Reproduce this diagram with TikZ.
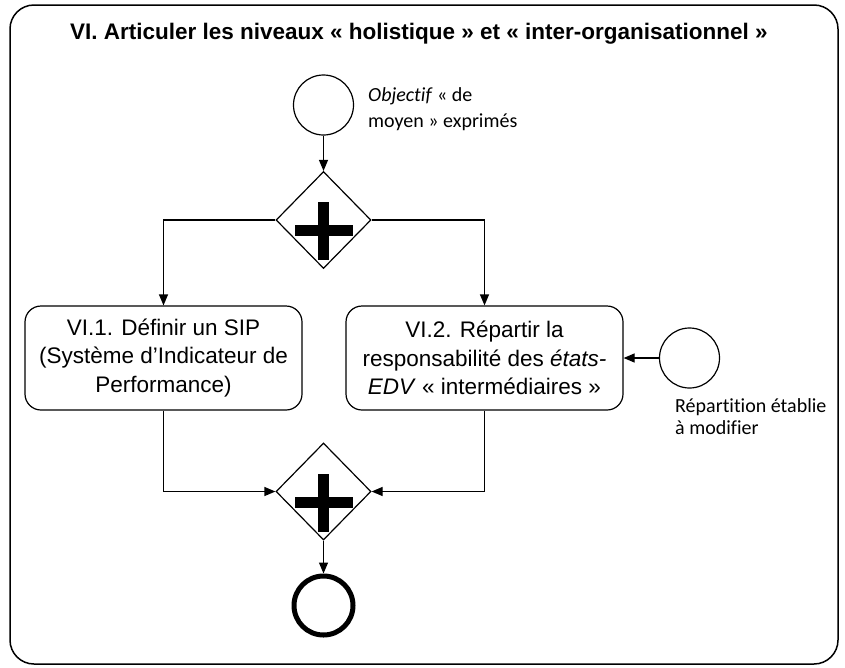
\documentclass[tikz,border=0pt]{standalone}
\usepackage{fontspec}
\setmainfont{Liberation Sans}
\newfontfamily\calibri[Ligatures = NoCommon]{Carlito}
\usepackage{tikz}
\usetikzlibrary{positioning, arrows.meta, shapes.geometric}

\begin{document}
\begin{tikzpicture}[
        x = 1pt, y = -1pt,
        every node/.style = {
            align = center,
            inner sep = 0pt,
            font = \fontsize{22.5}{28.5}\selectfont
        },
        flow/.style = {
            line width = 1.2pt,
            -{Triangle[length = 11pt, width = 9pt]}
        },
        event/.style = {
            draw,
            circle,
            line width = 1.2pt,
            minimum size = 60pt
        },
        endevent/.style = {
            draw,
            circle,
            line width = 5pt,
            minimum size = 59pt
        },
        task/.style = {
            draw,
            rectangle,
            rounded corners = 16pt,
            line width = 1.2pt,
            minimum width = 277pt,
            minimum height = 104pt
        },
        gateway/.style = {
            draw,
            diamond,
            line width = 1.2pt,
            minimum width = 95pt,
            minimum height = 97pt,
            path picture = {
                \fill ([shift = {(-5.5pt, 18pt)}]path picture bounding box.center)
                    rectangle ([shift = {(5.5pt, -40pt)}]path picture bounding box.center);
                \fill ([shift = {(-29pt, -5pt)}]path picture bounding box.center)
                    rectangle ([shift = {(29pt, -16pt)}]path picture bounding box.center);
            }
        },
        note/.style = {
            align = left,
            anchor = north west,
            font = \calibri\fontsize{20}{26}\selectfont
        }
    ]
        \useasboundingbox (0, 0) rectangle (845, 667);
        \draw[line width = 1.5pt, rounded corners = 24pt] (10, 5) rectangle (838, 664);

        \node[font = \bfseries\fontsize{22.5}{28}\selectfont] (title) at (422, 34) {
            VI. Articuler les niveaux « holistique » et « inter-organisationnel »
        };

        \node[event] (start) at (323.5, 105) {};
        \node[note] (startlbl) at (368, 87) {
            \textit{Objectif} « de \\
            moyen » exprimés
        };

        \node[gateway] (split) at (323.5, 220) {};

        \node[task] (sip) at (163.5, 358) {
            VI.1. Définir un SIP \\
            (Système d’Indicateur de \\
            Performance)
        };
        \node[task] (resp) at (484.5, 358) {
            VI.2. Répartir la \\
            responsabilité des \textit{états-} \\
            \textit{EDV} « intermédiaires »
        };

        \node[event] (modif) at (689.5, 358) {};
        \node[note, font = \calibri\fontsize{20}{22}\selectfont] (modiflbl) at (675, 398) {
            Répartition établie \\
            à modifier
        };

        \node[gateway] (join) at (323.5, 491.5) {};
        \node[endevent] (end) at (323.5, 605.5) {};

        \draw[flow] (start) -- (split);
        \draw[flow] (split.west) -| (sip.north);
        \draw[flow] (split.east) -| (resp.north);
        \draw[flow] (modif) -- (resp.east);
        \draw[flow] (sip.south) |- (join.west);
        \draw[flow] (resp.south) |- (join.east);
        \draw[flow] (join) -- (end);
    \end{tikzpicture}
\end{document}
